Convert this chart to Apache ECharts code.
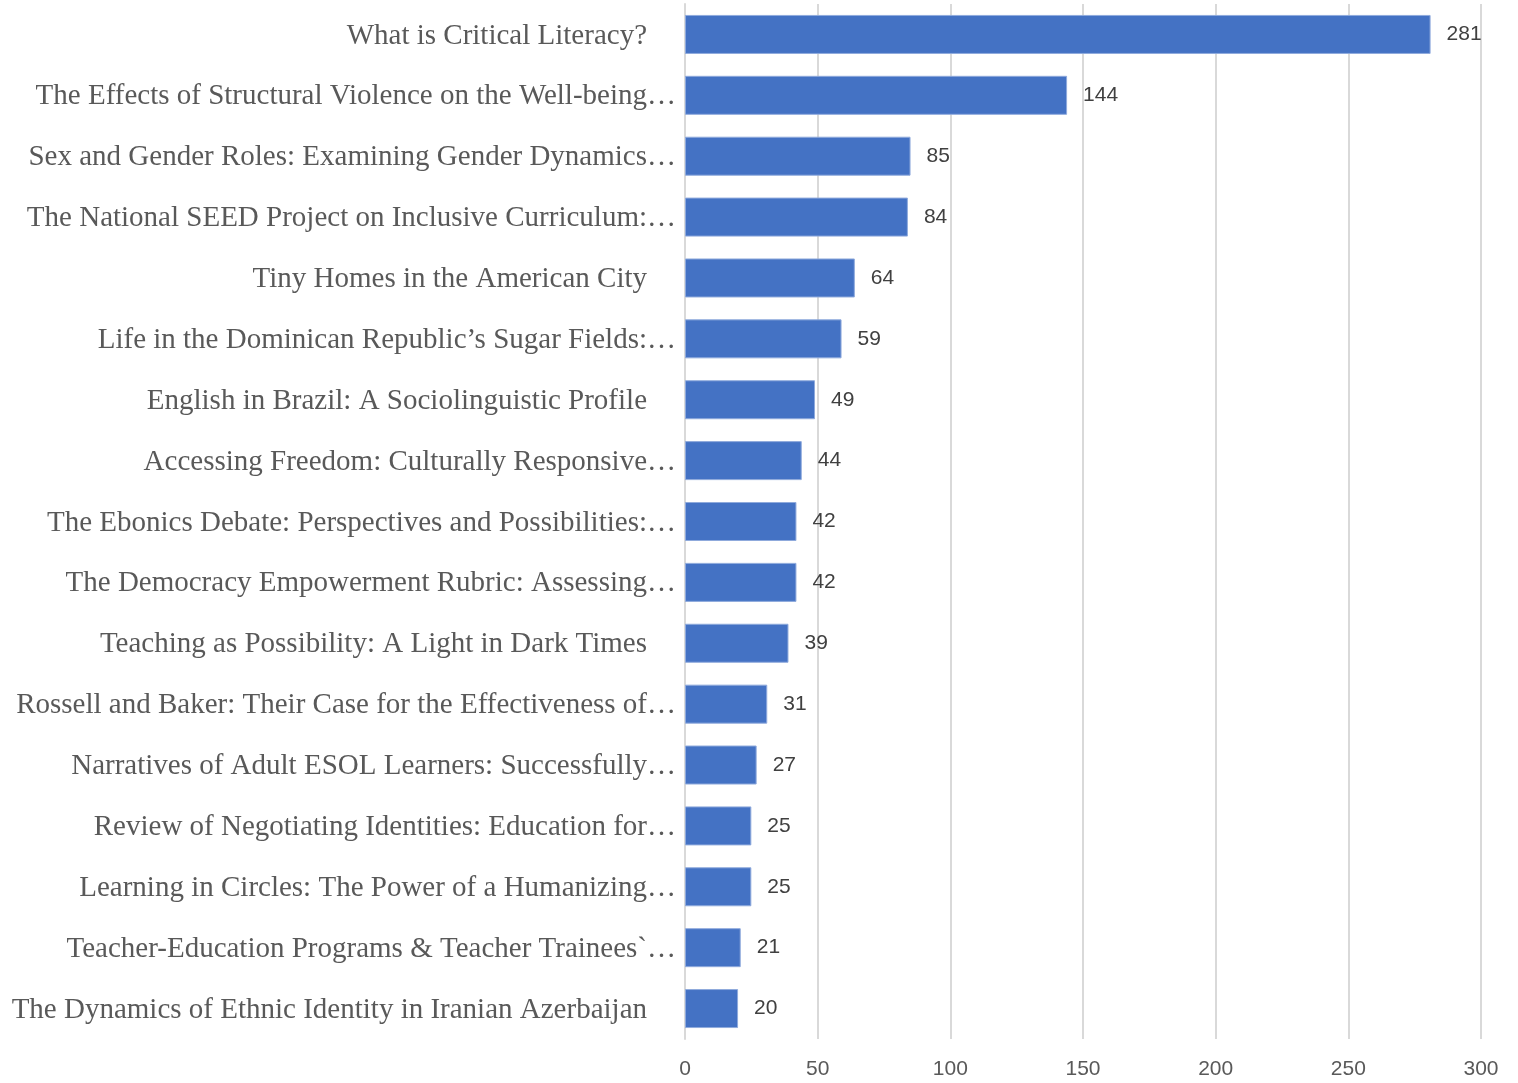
<!DOCTYPE html>
<html><head><meta charset="utf-8">
<script src="https://cdn.jsdelivr.net/npm/echarts@6/dist/echarts.min.js"></script>
<style>html,body{margin:0;padding:0;background:#fff}#c{width:1518px;height:1083px}</style>
</head><body><div id="c"></div>
<script>
const categories = [
  "What is Critical Literacy?",
  "The Effects of Structural Violence on the Well-being…",
  "Sex and Gender Roles: Examining Gender Dynamics…",
  "The National SEED Project on Inclusive Curriculum:…",
  "Tiny Homes in the American City",
  "Life in the Dominican Republic’s Sugar Fields:…",
  "English in Brazil: A Sociolinguistic Profile",
  "Accessing Freedom: Culturally Responsive…",
  "The Ebonics Debate: Perspectives and Possibilities:…",
  "The Democracy Empowerment Rubric: Assessing…",
  "Teaching as Possibility: A Light in Dark Times",
  "Rossell and Baker: Their Case for the Effectiveness of…",
  "Narratives of Adult ESOL Learners: Successfully…",
  "Review of Negotiating Identities: Education for…",
  "Learning in Circles: The Power of a Humanizing…",
  "Teacher-Education Programs & Teacher Trainees`…",
  "The Dynamics of Ethnic Identity in Iranian Azerbaijan"
];
const values = [281, 144, 85, 84, 64, 59, 49, 44, 42, 42, 39, 31, 27, 25, 25, 21, 20];
const xTicks = { min: 0, max: 300, interval: 50 };

const chart = echarts.init(document.getElementById('c'), null, {renderer: 'canvas'});
chart.setOption({
  animation: false,
  backgroundColor: '#ffffff',
  grid: { left: 685, right: 37, top: 4, bottom: 44, containLabel: false },
  xAxis: {
    type: 'value', min: xTicks.min, max: xTicks.max, interval: xTicks.interval,
    axisLine: { show: false }, axisTick: { show: false },
    splitLine: { show: true, lineStyle: { color: '#d9d9d9', width: 2 } },
    axisLabel: { color: '#595959', fontFamily: 'Liberation Sans', fontSize: 21, margin: 20 }
  },
  yAxis: {
    type: 'category', data: categories, inverse: true,
    axisLine: { show: true, lineStyle: { color: '#d9d9d9', width: 2 } },
    axisTick: { show: false },
    axisLabel: {
      interval: 0, margin: 9, color: '#595959',
      fontFamily: 'Liberation Serif', fontSize: 29,
      formatter: function (v) { return v.endsWith('…') ? '{a|' + v + '}' : '{b|' + v + '}'; },
      rich: {
        a: { fontFamily: 'Liberation Serif', fontSize: 29, color: '#595959', padding: [3, 0, 0, 0] },
        b: { fontFamily: 'Liberation Serif', fontSize: 29, color: '#595959', padding: [3, 29, 0, 0] }
      }
    }
  },
  series: [{
    type: 'bar', data: values, barWidth: 39,
    itemStyle: { color: '#4472C4', borderColor: '#8faadc', borderWidth: 1 },
    label: { show: true, position: 'right', distance: 16, color: '#404040', fontFamily: 'Liberation Sans', fontSize: 21, padding: [3, 0, 0, 0] }
  }]
});
</script></body></html>
